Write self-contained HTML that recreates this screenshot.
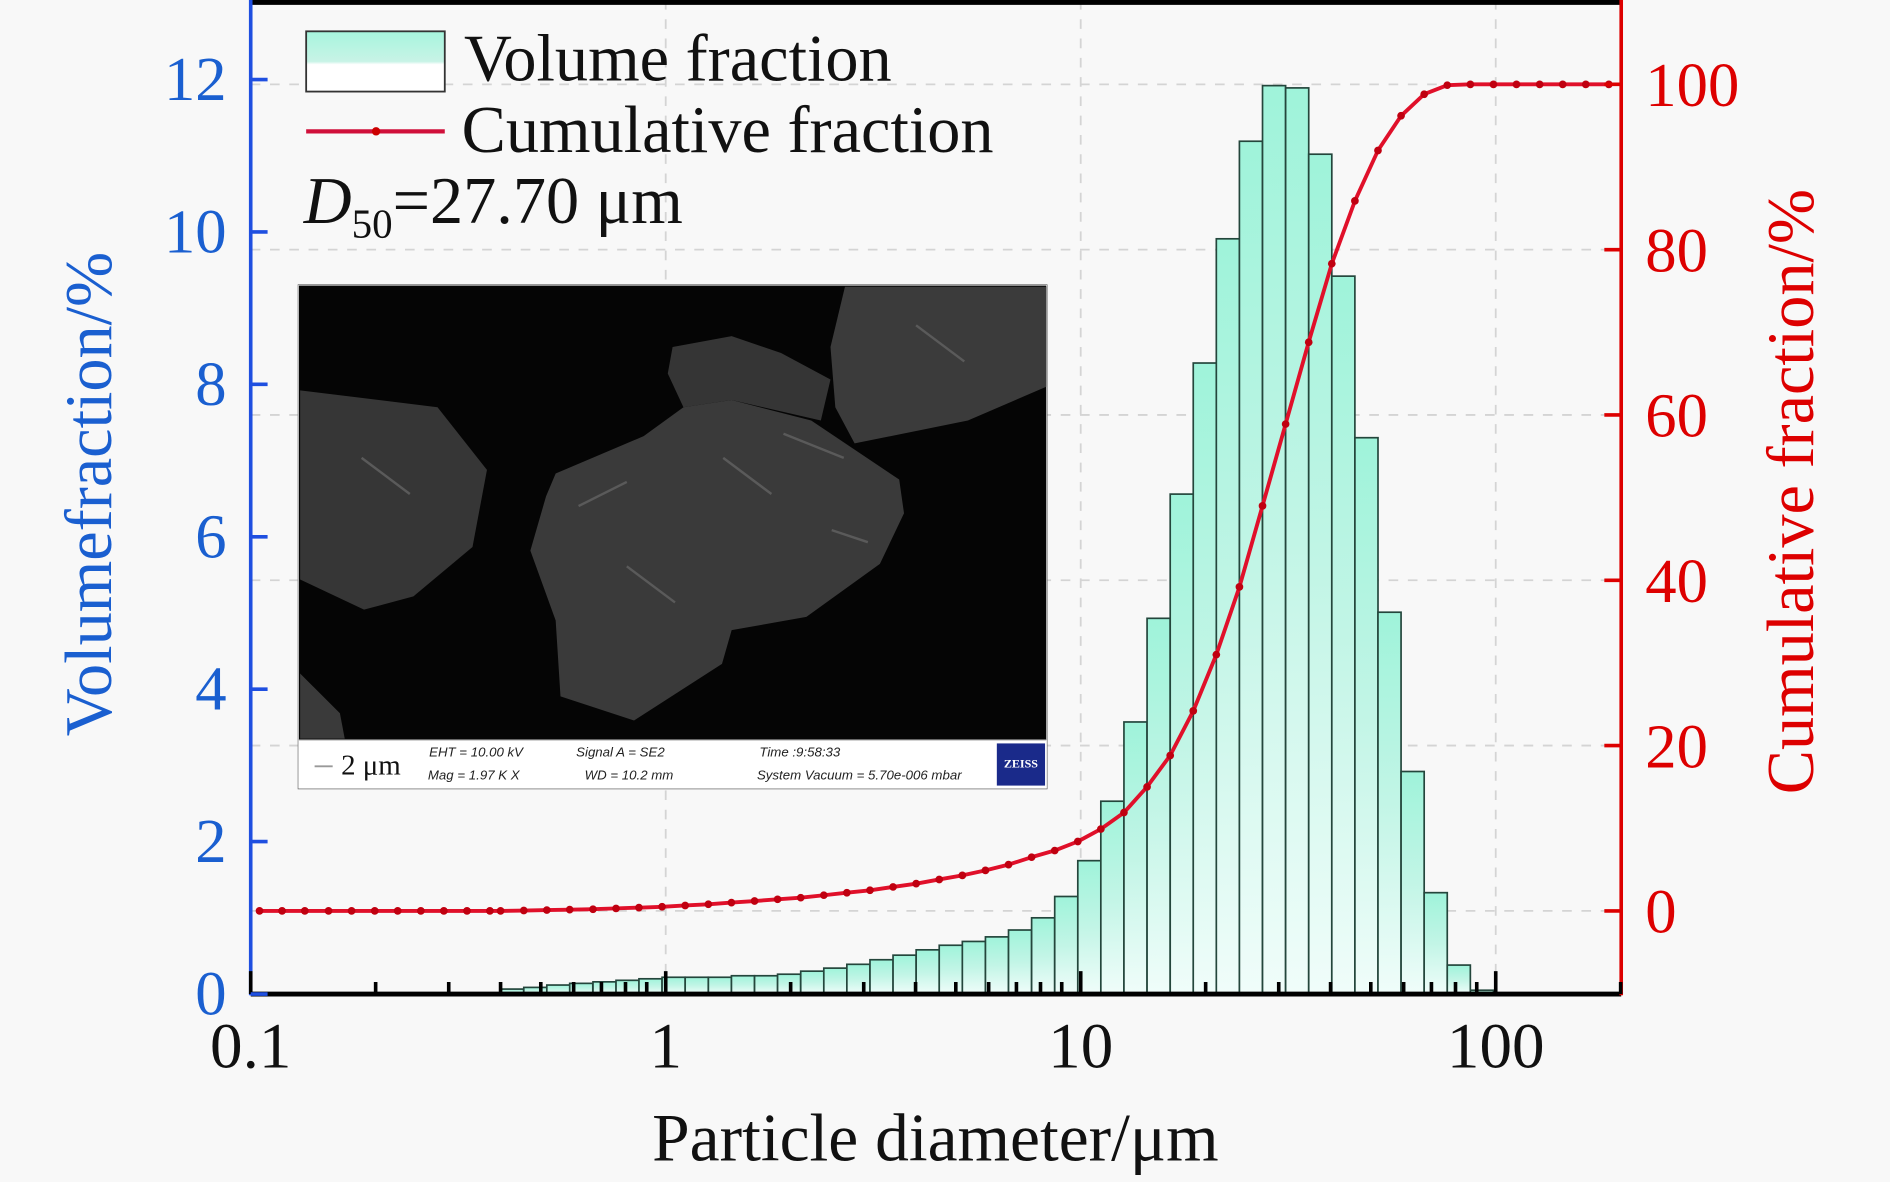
<!DOCTYPE html>
<html><head><meta charset="utf-8"><style>
html,body{margin:0;padding:0;background:#f8f8f8;}
svg{display:block;font-family:"Liberation Serif",serif;}
</style></head><body>
<svg id="chart" width="1890" height="1182" viewBox="0 0 1568 981" preserveAspectRatio="none" xmlns="http://www.w3.org/2000/svg">
<defs>
<linearGradient id="barGrad" x1="0" y1="0" x2="0" y2="1">
<stop offset="0" stop-color="#9ff3da"/><stop offset="0.5" stop-color="#c2f5e6"/><stop offset="1" stop-color="#f0fdfa"/>
</linearGradient>
<linearGradient id="legGrad" x1="0" y1="0" x2="0" y2="1">
<stop offset="0" stop-color="#a6f5dd"/><stop offset="0.5" stop-color="#c8f3e6"/><stop offset="0.55" stop-color="#ffffff"/><stop offset="1" stop-color="#ffffff"/>
</linearGradient>
<clipPath id="plotClip"><rect x="208" y="0" width="1137" height="826"/></clipPath>
<clipPath id="insetClip"><rect x="247" y="236" width="622" height="419"/></clipPath>
</defs>
<rect x="0" y="0" width="1568" height="981" fill="#f8f8f8"/>
<g id="grid"></g>
<g id="bars"></g>
<g id="cum" clip-path="url(#plotClip)"></g>
<g id="axes"></g>

<!-- SEM inset -->
<g clip-path="url(#insetClip)">
<rect x="247" y="236" width="622" height="419" fill="#ffffff" stroke="#555" stroke-width="1"/>
<rect x="248" y="237" width="620" height="377" fill="#050505"/>
<polygon fill="#3b3b3b" points="701,238 868,238 868,321 803,349 709,368 693,338 689,288"/>
<polygon fill="#353535" points="558,288 607,279 648,293 689,315 681,349 607,332 567,338 554,310"/>
<polygon fill="#3a3a3a" points="461,393 534,362 567,338 607,332 673,349 746,398 750,426 730,468 669,512 607,523 599,551 526,598 465,578 461,515 440,457 453,412"/>
<polygon fill="#363636" points="249,324 363,338 404,390 392,454 343,495 302,506 249,481"/>
<polygon fill="#3a3a3a" points="249,559 282,592 286,613 249,613"/>
<path d="M480 420 L520 400 M600 380 L640 410 M690 440 L720 450 M520 470 L560 500 M650 360 L700 380 M300 380 L340 410 M760 270 L800 300" stroke="#5a5a5a" stroke-width="2" fill="none"/>
<line x1="248" y1="614" x2="868" y2="614" stroke="#888" stroke-width="1"/>
<line x1="261" y1="636" x2="276" y2="636" stroke="#999" stroke-width="1.5"/>
<text x="283" y="643" font-size="24" fill="#111">2 μm</text>
<g font-family="Liberation Sans, sans-serif" font-style="italic" font-size="11" fill="#222">
<text x="356" y="628">EHT = 10.00 kV</text>
<text x="355" y="647">Mag =    1.97 K X</text>
<text x="478" y="628">Signal A = SE2</text>
<text x="485" y="647">WD = 10.2 mm</text>
<text x="630" y="628">Time :9:58:33</text>
<text x="628" y="647">System Vacuum = 5.70e-006 mbar</text>
</g>
<rect x="827" y="617" width="40" height="35" fill="#1a2a8a"/>
<text x="847" y="637" font-size="10" font-weight="bold" fill="#fff" text-anchor="middle">ZEISS</text>
</g>

<!-- legend -->
<g>
<rect x="254" y="26" width="115" height="50" fill="url(#legGrad)" stroke="#333" stroke-width="1.5"/>
<text x="385" y="67" font-size="55" fill="#111">Volume fraction</text>
<line x1="254" y1="109" x2="369" y2="109" stroke="#d0103a" stroke-width="3.5"/>
<circle cx="312" cy="109" r="3.5" fill="#cc0000"/>
<text x="383" y="126" font-size="55" fill="#111">Cumulative fraction</text>
<text x="252" y="185" font-size="55" fill="#111"><tspan font-style="italic">D</tspan><tspan font-size="34" dy="12">50</tspan><tspan dy="-12">=27.70 μm</tspan></text>
</g>

<text x="776" y="963" font-size="56" text-anchor="middle" fill="#111">Particle diameter/μm</text>
<text transform="translate(92,410) rotate(-90)" font-size="55" text-anchor="middle" fill="#1a5fd0">Volumefraction/%</text>
<text transform="translate(1504,408) rotate(-90)" font-size="55" text-anchor="middle" fill="#dd0000">Cumulative fraction/%</text>

<script>
// ---- data ----
const binStartDiam = [0.400,0.455,0.517,0.587,0.668,0.759,0.862,0.980,1.114,1.267,1.440,1.637,1.860,2.115,2.404,2.732,3.106,3.530,4.013,4.561,5.185,5.894,6.699,7.615,8.656,9.839,11.18,12.71,14.45,16.43,18.67,21.22,24.12,27.42,31.17,35.43,40.27,45.78,52.03,59.15,67.23,76.42,86.87];
const binRatio = 1.1367;
const volumeValues = [0.065,0.087,0.118,0.14,0.16,0.18,0.2,0.22,0.22,0.22,0.24,0.24,0.26,0.3,0.34,0.39,0.45,0.51,0.58,0.64,0.69,0.75,0.84,1.0,1.28,1.75,2.53,3.57,4.93,6.56,8.28,9.91,11.19,11.92,11.89,11.02,9.42,7.30,5.01,2.92,1.33,0.38,0.05];
const cumDiam = [0.105,0.119,0.135,0.154,0.175,0.199,0.226,0.257,0.292,0.332,0.377,0.400,0.455,0.517,0.587,0.668,0.759,0.862,0.980,1.114,1.267,1.440,1.637,1.860,2.115,2.404,2.732,3.106,3.530,4.013,4.561,5.185,5.894,6.699,7.615,8.656,9.839,11.18,12.71,14.45,16.43,18.67,21.22,24.12,27.42,31.17,35.43,40.27,45.78,52.03,59.15,67.23,76.42,86.87,98.74,112.2,127.6,145.0,164.8,187.3];
const cumValues = [0,0,0,0,0,0,0,0,0,0,0,0,0.05,0.1,0.15,0.2,0.3,0.4,0.5,0.65,0.8,1.0,1.2,1.4,1.6,1.9,2.2,2.5,2.9,3.3,3.8,4.3,4.9,5.6,6.5,7.3,8.4,9.9,11.9,15.0,18.8,24.2,31.0,39.2,49.0,58.9,68.8,78.3,85.9,92.0,96.2,98.8,99.9,100,100,100,100,100,100,100];
const xTicks = [0.1,1,10,100];
const xTickLabels = ["0.1","1","10","100"];
const leftTicks = [0,2,4,6,8,10,12];
const rightTicks = [0,20,40,60,80,100];

// ---- scales (displayed coordinate frame) ----
const X0 = 208, X1 = 1345, DEC = 344.3;
const xs = d => X0 + (Math.log10(d) + 1) * DEC;
const yl = v => 825 - v * 63.25;
const yr = v => 756 - v * 6.86;
const NS = "http://www.w3.org/2000/svg";
function mk(tag, attrs, parent){const e=document.createElementNS(NS,tag);for(const k in attrs)e.setAttribute(k,attrs[k]);parent.appendChild(e);return e;}

const grid = document.getElementById('grid');
rightTicks.forEach(v=>{
  const l = mk('line',{x1:X0,x2:X1,y1:yr(v),y2:yr(v),stroke:'#d4d4d4','stroke-width':1.5,'stroke-dasharray':'8 8'},grid);
  
  
});
xTicks.slice(1).forEach(d=>{
  const l = mk('line',{x1:xs(d),x2:xs(d),y1:0,y2:825,stroke:'#d4d4d4','stroke-width':1.5,'stroke-dasharray':'8 8'},grid);
  
  
});

const bars = document.getElementById('bars');
binStartDiam.forEach((d,i)=>{
  const xa = xs(d), xb = xs(d*binRatio), v = volumeValues[i];
  const r = mk('rect',{x:xa,y:yl(v),width:xb-xa,height:825-yl(v),fill:'url(#barGrad)',stroke:'#24463c','stroke-width':1.4},bars);
  
  
});

const cum = document.getElementById('cum');
const pts = cumDiam.map((d,i)=>xs(d).toFixed(1)+','+yr(cumValues[i]).toFixed(1)).join(' ');
const pl = mk('polyline',{points:pts,fill:'none',stroke:'#e0102a','stroke-width':3.2,'stroke-linejoin':'round'},cum);


cumDiam.forEach((d,i)=>{
  const c = mk('circle',{cx:xs(d),cy:yr(cumValues[i]),r:3.2,fill:'#c00010'},cum);
  
  
});

const axes = document.getElementById('axes');
mk('line',{x1:X0,x2:X1,y1:2,y2:2,stroke:'#000','stroke-width':4},axes);
mk('line',{x1:X0,x2:X1,y1:825,y2:825,stroke:'#000','stroke-width':4},axes);
mk('line',{x1:X0,x2:X0,y1:0,y2:826,stroke:'#1f4fe0','stroke-width':3},axes);
mk('line',{x1:X1,x2:X1,y1:0,y2:826,stroke:'#dd0000','stroke-width':3},axes);
for(let dec=-1; dec<=2; dec++){
  for(let m=1;m<=9;m++){
    const d = m*Math.pow(10,dec); const x = xs(d);
    if(x > X1) continue;
    const t = mk('line',{x1:x,x2:x,y1:825,y2:m===1?806:815,stroke:'#000','stroke-width':3},axes);
    
    
  }
}
xTicks.forEach((d,i)=>{
  const t = mk('text',{x:xs(d),y:886,'font-size':54,'text-anchor':'middle',fill:'#111'},axes);
  t.textContent = xTickLabels[i];
  
  
});
leftTicks.forEach(v=>{
  const l = mk('line',{x1:X0,x2:X0+14,y1:yl(v),y2:yl(v),stroke:'#1f4fe0','stroke-width':3},axes);
  
  
  const t = mk('text',{x:188,y:yl(v)+17,'font-size':52,'text-anchor':'end',fill:'#1a5fd0'},axes);
  t.textContent = v;
  
  
});
rightTicks.forEach(v=>{
  const l = mk('line',{x1:X1-14,x2:X1,y1:yr(v),y2:yr(v),stroke:'#dd0000','stroke-width':3},axes);
  
  
  const t = mk('text',{x:1365,y:yr(v)+18,'font-size':52,'text-anchor':'start',fill:'#dd0000'},axes);
  t.textContent = v;
  
  
});
</script>
</svg>
</body></html>
